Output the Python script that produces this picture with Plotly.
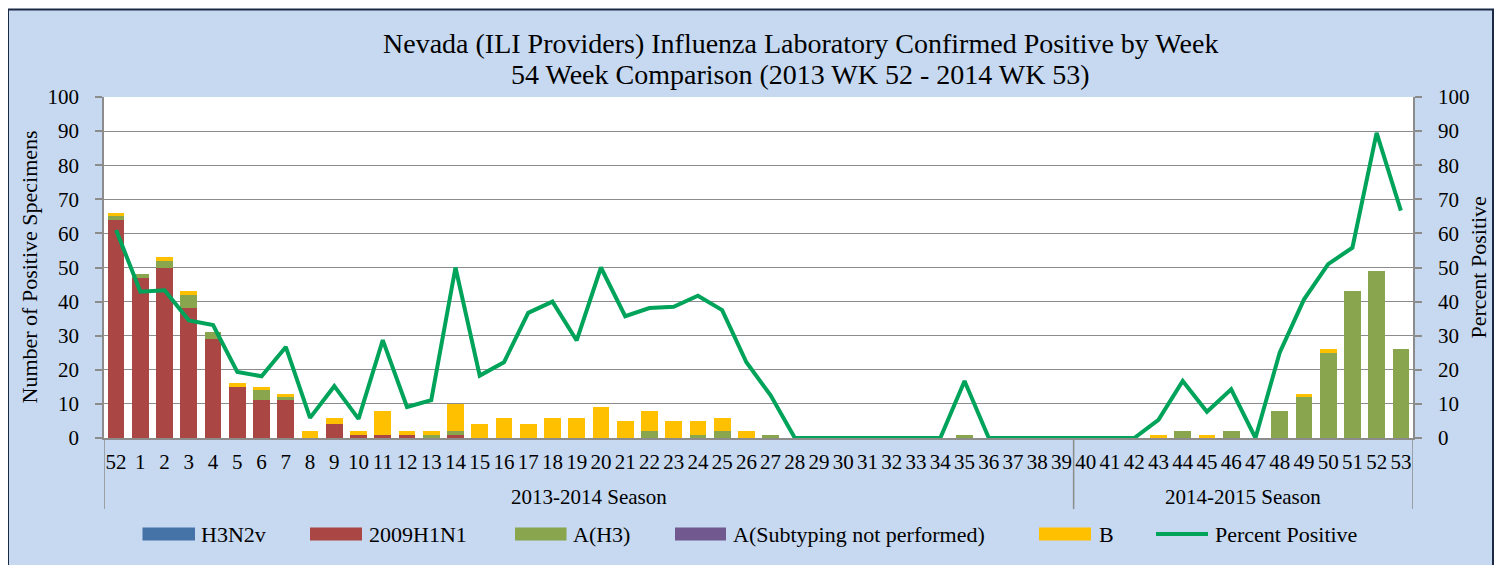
import plotly.graph_objects as go

# ---------------- data ----------------
weeks = ["52", "1", "2", "3", "4", "5", "6", "7", "8", "9", "10", "11", "12", "13", "14",
         "15", "16", "17", "18", "19", "20", "21", "22", "23", "24", "25", "26", "27", "28",
         "29", "30", "31", "32", "33", "34", "35", "36", "37", "38", "39", "40", "41", "42",
         "43", "44", "45", "46", "47", "48", "49", "50", "51", "52", "53"]
season_names = ["2013-2014 Season", "2014-2015 Season"]
season_sizes = [40, 14]

h3n2v = [0, 0, 0, 0, 0, 0, 0, 0, 0, 0, 0, 0, 0, 0, 0, 0, 0, 0, 0, 0, 0, 0, 0, 0, 0, 0, 0,
         0, 0, 0, 0, 0, 0, 0, 0, 0, 0, 0, 0, 0, 0, 0, 0, 0, 0, 0, 0, 0, 0, 0, 0, 0, 0, 0]
h1n1 = [64, 47, 50, 38, 29, 15, 11, 11, 0, 4, 1, 1, 1, 0, 1, 0, 0, 0, 0, 0, 0, 0, 0, 0, 0, 0, 0,
        0, 0, 0, 0, 0, 0, 0, 0, 0, 0, 0, 0, 0, 0, 0, 0, 0, 0, 0, 0, 0, 0, 0, 0, 0, 0, 0]
a_h3 = [1, 1, 2, 4, 2, 0, 3, 1, 0, 0, 0, 0, 0, 1, 1, 0, 0, 0, 0, 0, 0, 0, 2, 0, 1, 2, 0,
        1, 0, 0, 0, 0, 0, 0, 0, 1, 0, 0, 0, 0, 0, 0, 0, 0, 2, 0, 2, 0, 8, 12, 25, 43, 49, 26]
a_nosub = [0, 0, 0, 0, 0, 0, 0, 0, 0, 0, 0, 0, 0, 0, 0, 0, 0, 0, 0, 0, 0, 0, 0, 0, 0, 0, 0,
           0, 0, 0, 0, 0, 0, 0, 0, 0, 0, 0, 0, 0, 0, 0, 0, 0, 0, 0, 0, 0, 0, 0, 0, 0, 0, 0]
b_vals = [1, 0, 1, 1, 0, 1, 1, 1, 2, 2, 1, 7, 1, 1, 8, 4, 6, 4, 6, 6, 9, 5, 6, 5, 4, 4, 2,
          0, 0, 0, 0, 0, 0, 0, 0, 0, 0, 0, 0, 0, 0, 0, 0, 1, 0, 1, 0, 0, 0, 1, 1, 0, 0, 0]
pct_pos = [61.0, 42.9, 43.3, 34.5, 33.1, 19.4, 18.1, 26.7, 5.9, 15.2, 5.6, 28.7, 9.1, 11.1,
           50.0, 18.3, 22.2, 36.7, 40.0, 28.6, 50.0, 35.7, 38.1, 38.5, 41.7, 37.5, 22.2, 12.5,
           0, 0, 0, 0, 0, 0, 0, 16.7, 0, 0, 0, 0, 0, 0, 0,
           5.3, 16.7, 7.7, 14.3, 0, 25.0, 40.6, 51.0, 55.8, 89.5, 66.7]

series_names = ["H3N2v", "2009H1N1", "A(H3)", "A(Subtyping not performed)", "B"]
series_vals = [h3n2v, h1n1, a_h3, a_nosub, b_vals]
series_colors = ["#4572A7", "#AA4643", "#89A54E", "#71588F", "#FFC000"]
line_name = "Percent Positive"
line_color = "#00A35A"

# ---------------- layout geometry (pixels, in screenshot coords) ----------------
W, H = 1505, 565
OFF = 8                      # page body margin shifts the figure by this much
PL, PR, PT, PB = 104, 1413, 97, 438   # plot area edges in screenshot
PW, PH = PR - PL, PB - PT
FONT = "Liberation Serif"


def px_x(p):
    return (p - PL) / PW


def px_y(p):
    return (PB - p) / PH


xpos = list(range(len(weeks)))

fig = go.Figure()
for name, vals, col in zip(series_names, series_vals, series_colors):
    fig.add_trace(go.Bar(x=xpos, y=vals, name=name, marker=dict(color=col, line=dict(width=0)),
                         showlegend=False))
fig.add_trace(go.Scatter(x=xpos, y=pct_pos, name=line_name, mode="lines", yaxis="y2",
                         line=dict(color=line_color, width=4), showlegend=False))

shapes = []
annotations = []

# outer chart frame
shapes.append(dict(type="rect", xref="paper", yref="paper", layer="below",
                   x0=px_x(8), x1=px_x(1493), y0=px_y(600), y1=px_y(9.5),
                   fillcolor="#C6D9F1", line=dict(color="#1B2A44", width=2)))
# white plot area
shapes.append(dict(type="rect", xref="paper", yref="paper", layer="below",
                   x0=0, x1=1, y0=0, y1=1, fillcolor="white", line=dict(width=0)))

# season dividers and labels
edges = [-0.5]
for s in season_sizes:
    edges.append(edges[-1] + s)
for e in edges:
    shapes.append(dict(type="line", xref="x", yref="paper", x0=e, x1=e, y0=0, y1=px_y(509),
                       line=dict(color="#8C8C8C", width=1.5)))
for i, nm in enumerate(season_names):
    annotations.append(dict(text=nm, xref="x", yref="paper", x=(edges[i] + edges[i + 1]) / 2,
                            y=px_y(497), showarrow=False, xanchor="center", yanchor="middle",
                            font=dict(family=FONT, size=21, color="black")))

# title
annotations.append(dict(text="Nevada (ILI Providers) Influenza Laboratory Confirmed Positive by Week",
                        xref="paper", yref="paper", x=px_x(801), y=px_y(44), showarrow=False,
                        xanchor="center", yanchor="middle",
                        font=dict(family=FONT, size=28, color="black")))
annotations.append(dict(text="54 Week Comparison (2013 WK 52 - 2014 WK 53)",
                        xref="paper", yref="paper", x=px_x(801), y=px_y(74), showarrow=False,
                        xanchor="center", yanchor="middle",
                        font=dict(family=FONT, size=28, color="black")))

# axis titles
annotations.append(dict(text="Number of Positive Specimens", xref="paper", yref="paper",
                        x=px_x(29), y=0.5, showarrow=False, textangle=-90,
                        xanchor="center", yanchor="middle",
                        font=dict(family=FONT, size=22, color="black")))
annotations.append(dict(text="Percent Positive", xref="paper", yref="paper",
                        x=px_x(1478), y=0.5, showarrow=False, textangle=-90,
                        xanchor="center", yanchor="middle",
                        font=dict(family=FONT, size=22, color="black")))

# manual legend
leg_y = 534
leg_items = [  # (swatch x0, swatch x1, text x)
    (142.5, 195, 199),
    (310, 362, 367),
    (515, 566.5, 571),
    (675, 726, 731),
    (1039, 1091, 1097),
]
for (x0, x1, tx), nm, col in zip(leg_items, series_names, series_colors):
    shapes.append(dict(type="rect", xref="paper", yref="paper", x0=px_x(x0), x1=px_x(x1),
                       y0=px_y(leg_y + 6.5), y1=px_y(leg_y - 6.5), fillcolor=col,
                       line=dict(width=0)))
    annotations.append(dict(text=nm, xref="paper", yref="paper", x=px_x(tx), y=px_y(leg_y),
                            showarrow=False, xanchor="left", yanchor="middle",
                            font=dict(family=FONT, size=22, color="black")))
shapes.append(dict(type="line", xref="paper", yref="paper", x0=px_x(1156), x1=px_x(1208),
                   y0=px_y(leg_y), y1=px_y(leg_y), line=dict(color=line_color, width=4)))
annotations.append(dict(text=line_name, xref="paper", yref="paper", x=px_x(1213), y=px_y(leg_y),
                        showarrow=False, xanchor="left", yanchor="middle",
                        font=dict(family=FONT, size=22, color="black")))

grid_col = "#8C8C8C"
fig.update_layout(
    width=W, height=H,
    margin=dict(l=PL - OFF, r=W - (PR - OFF), t=PT - OFF, b=H - (PB - OFF), autoexpand=False),
    paper_bgcolor="white", plot_bgcolor="white",
    barmode="stack", bargap=0.31,
    showlegend=False,
    font=dict(family=FONT, size=21, color="black"),
    xaxis=dict(range=[-0.5, len(weeks) - 0.5], tickvals=xpos, ticktext=weeks, tickangle=0,
               showgrid=False, zeroline=False, showline=True, linecolor=grid_col, linewidth=1.5,
               ticks="", ticklabelstandoff=4, tickfont=dict(family=FONT, size=21, color="black")),
    yaxis=dict(range=[0, 100], dtick=10, showgrid=True, gridcolor=grid_col, gridwidth=1.3,
               zeroline=False, showline=True, linecolor=grid_col, linewidth=1.5,
               ticks="outside", ticklen=7, tickcolor=grid_col, tickwidth=1.5,
               ticklabelstandoff=12, tickfont=dict(family=FONT, size=21, color="black")),
    yaxis2=dict(range=[0, 100], dtick=10, overlaying="y", side="right", showgrid=False,
                zeroline=False, showline=True, linecolor=grid_col, linewidth=1.5,
                ticks="outside", ticklen=7, tickcolor=grid_col, tickwidth=1.5,
                ticklabelstandoff=12, tickfont=dict(family=FONT, size=21, color="black")),
    shapes=shapes,
    annotations=annotations,
)

fig.write_html("out.html")
